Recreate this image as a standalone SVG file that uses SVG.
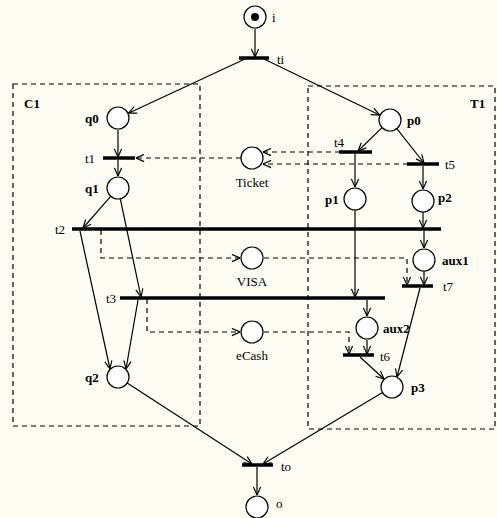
<svg xmlns="http://www.w3.org/2000/svg" width="497" height="518" viewBox="0 0 497 518">
<defs>
<marker id="ah" viewBox="0 0 10 10" refX="10" refY="5" markerWidth="9" markerHeight="9" markerUnits="userSpaceOnUse" orient="auto">
<path d="M1,1 L10,5 L1,9" fill="none" stroke="#000" stroke-width="1.3" stroke-dasharray="none"/>
</marker>
<style>
.pl{fill:#fff;stroke:#000;stroke-width:1.2}
.tr{stroke:#000;stroke-width:3.5}
.ar{fill:none;stroke:#000;stroke-width:1.2;marker-end:url(#ah)}
.da{fill:none;stroke:#000;stroke-width:1.2;stroke-dasharray:5,4;marker-end:url(#ah)}
.box{fill:none;stroke:#000;stroke-width:1.2;stroke-dasharray:5,4}
.lb{font-family:"Liberation Serif","Times New Roman",serif;font-size:13px;fill:#000}
.bl{font-family:"Liberation Serif","Times New Roman",serif;font-size:13px;font-weight:bold;fill:#000}
.nm{font-family:"Liberation Serif","Times New Roman",serif;font-size:13px;fill:#000;text-anchor:middle}
</style>
</defs>
<rect width="497" height="518" fill="#fdfdf3"/>
<g id="C1"><rect class="box" x="13" y="84" width="187" height="342"/><text class="bl" x="24" y="108">C1</text></g>
<g id="T1"><rect class="box" x="308" y="86" width="187" height="343"/><text class="bl" x="470" y="108">T1</text></g>
<g id="connectors">
<path class="ar" d="M255,29 L255,57"/>
<path class="ar" d="M245,59 L128.4,113.2"/>
<path class="ar" d="M264,59 L379.6,115"/>
<path class="ar" d="M118,130 L118,157"/>
<path class="ar" d="M118,160 L118,176"/>
<path class="ar" d="M382,127.6 L358,151"/>
<path class="ar" d="M396.8,128.6 L424,163"/>
<path class="ar" d="M355,154 L355,187"/>
<path class="ar" d="M423,166 L423,189"/>
<path class="ar" d="M110.7,196.3 L83,228"/>
<path class="ar" d="M120.3,198.8 L141,297"/>
<path class="ar" d="M423,212 L423,228"/>
<path class="ar" d="M424,231 L424,248"/>
<path class="ar" d="M355,210 L355,297"/>
<path class="ar" d="M424,271 L424,285"/>
<path class="ar" d="M367,300 L367,316"/>
<path class="ar" d="M367,340 L367,354"/>
<path class="ar" d="M80,231 L110,369"/>
<path class="ar" d="M138,300 L126,369"/>
<path class="ar" d="M360,357 L384,379"/>
<path class="ar" d="M420,288 L397,377"/>
<path class="ar" d="M127.2,383 L252,464"/>
<path class="ar" d="M382.5,392.6 L263,464"/>
<path class="ar" d="M257,467 L257,495"/>
<path class="da" d="M241,158 L136,158"/>
<path class="da" d="M340,152 L263,152"/>
<path class="da" d="M408,164 L263,164"/>
<path class="da" d="M101,230 L101,258 L240,258"/>
<path class="da" d="M264,258 L407,258 L407,285"/>
<path class="da" d="M147,299 L147,332 L240,332"/>
<path class="da" d="M264,332 L349,332 L349,354"/>
</g>
<g id="i"><circle class="pl" cx="255" cy="17" r="11"/><circle cx="255" cy="17" r="4" fill="#000"/><text class="lb" x="272" y="22">i</text></g>
<g id="ti"><line class="tr" x1="239" y1="58" x2="269" y2="58"/><text class="lb" x="277" y="64">ti</text></g>
<g id="q0"><circle class="pl" cx="118" cy="118" r="11"/><text class="bl" x="85" y="123">q0</text></g>
<g id="p0"><circle class="pl" cx="390" cy="120" r="11"/><text class="bl" x="407" y="125">p0</text></g>
<g id="t1"><line class="tr" x1="103" y1="158" x2="135" y2="158"/><text class="lb" x="85" y="163">t1</text></g>
<g id="Ticket"><circle class="pl" cx="252" cy="158" r="11"/><text class="nm" x="252" y="187">Ticket</text></g>
<g id="t4"><line class="tr" x1="339" y1="152" x2="372" y2="152"/><text class="lb" x="334" y="147">t4</text></g>
<g id="t5"><line class="tr" x1="407" y1="164" x2="439" y2="164"/><text class="lb" x="445" y="169">t5</text></g>
<g id="q1"><circle class="pl" cx="118" cy="188" r="11"/><text class="bl" x="85" y="193">q1</text></g>
<g id="p1"><circle class="pl" cx="355" cy="199" r="11"/><text class="bl" x="325" y="204">p1</text></g>
<g id="p2"><circle class="pl" cx="423" cy="201" r="11"/><text class="bl" x="438" y="202">p2</text></g>
<g id="t2"><line class="tr" x1="72" y1="229" x2="441" y2="229"/><text class="lb" x="55" y="234">t2</text></g>
<g id="VISA"><circle class="pl" cx="252" cy="258" r="11"/><text class="nm" x="252" y="286">VISA</text></g>
<g id="aux1"><circle class="pl" cx="424" cy="260" r="11"/><text class="bl" x="442" y="265">aux1</text></g>
<g id="t7"><line class="tr" x1="402" y1="286" x2="433" y2="286"/><text class="lb" x="443" y="291">t7</text></g>
<g id="t3"><line class="tr" x1="120" y1="298" x2="385" y2="298"/><text class="lb" x="106" y="303">t3</text></g>
<g id="eCash"><circle class="pl" cx="252" cy="332" r="11"/><text class="nm" x="252" y="360">eCash</text></g>
<g id="aux2"><circle class="pl" cx="367" cy="328" r="11"/><text class="bl" x="383" y="333">aux2</text></g>
<g id="t6"><line class="tr" x1="343" y1="355" x2="374" y2="355"/><text class="lb" x="380" y="361">t6</text></g>
<g id="q2"><circle class="pl" cx="118" cy="377" r="11"/><text class="bl" x="85" y="382">q2</text></g>
<g id="p3"><circle class="pl" cx="392" cy="387" r="11"/><text class="bl" x="411" y="392">p3</text></g>
<g id="to"><line class="tr" x1="242" y1="465" x2="273" y2="465"/><text class="lb" x="281" y="471">to</text></g>
<g id="o"><circle class="pl" cx="257" cy="507" r="11"/><text class="lb" x="276" y="508">o</text></g>
</svg>
